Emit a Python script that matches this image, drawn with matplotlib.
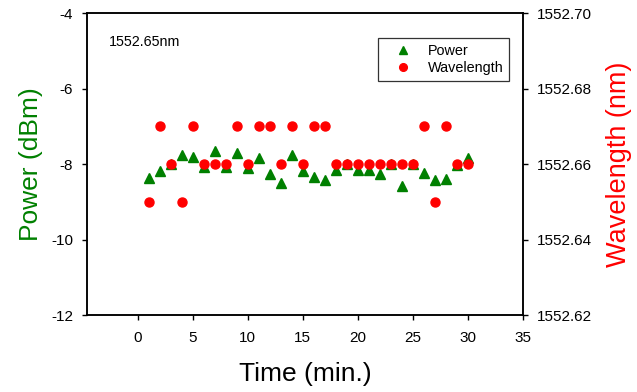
import matplotlib

matplotlib.use('Agg')
import matplotlib.pyplot as plt

plt.rcParams['font.family'] = ['Liberation Sans', 'DejaVu Sans']

time_min = list(range(1, 31))
power_dbm = [-8.38, -8.17, -8.0, -7.77, -7.82, -8.08, -7.64, -8.08, -7.70, -8.10,
             -7.83, -8.25, -8.49, -7.75, -8.17, -8.33, -8.41, -8.16, -8.0, -8.16,
             -8.16, -8.26, -8.0, -8.58, -8.0, -8.23, -8.42, -8.39, -8.03, -7.83]
wavelength_nm = [1552.65, 1552.67, 1552.66, 1552.65, 1552.67, 1552.66, 1552.66, 1552.66, 1552.67, 1552.66,
                 1552.67, 1552.67, 1552.66, 1552.67, 1552.66, 1552.67, 1552.67, 1552.66, 1552.66, 1552.66,
                 1552.66, 1552.66, 1552.66, 1552.66, 1552.66, 1552.67, 1552.65, 1552.67, 1552.66, 1552.66]

x_ticks = [0, 5, 10, 15, 20, 25, 30, 35]
power_ticks = [-4, -6, -8, -10, -12]
wl_ticks = [1552.62, 1552.64, 1552.66, 1552.68, 1552.70]

fig = plt.figure(figsize=(6.37, 3.92), dpi=100)
ax = fig.add_axes([0.1366, 0.1964, 0.684, 0.7696])
ax2 = ax.twinx()

h1, = ax.plot(time_min, power_dbm, linestyle='none', marker='^', color='#008000',
              markersize=6.5, label='Power')
h2, = ax2.plot(time_min, wavelength_nm, linestyle='none', marker='o', color='#ff0000',
               markersize=6.5, label='Wavelength')

ax.set_xlim(-4.6, 35)
ax.set_ylim(-12, -4)
ax2.set_ylim(1552.62, 1552.70)
ax.set_xticks(x_ticks)
ax.set_yticks(power_ticks)
ax.set_yticklabels([f"{v}" for v in power_ticks])
ax2.set_yticks(wl_ticks)
ax2.set_yticklabels([f"{v:.2f}" for v in wl_ticks])

for a in (ax, ax2):
    a.tick_params(direction='out', length=3.6, width=1, labelsize=11, pad=6.5)
    for s in a.spines.values():
        s.set_linewidth(1.1)
ax.tick_params(axis='x', pad=8)

ax.set_xlabel("Time (min.)", fontsize=19, labelpad=12)
ax.set_ylabel("Power (dBm)", fontsize=19, color='#008000', labelpad=6)
ax2.set_ylabel("Wavelength (nm)", fontsize=19.5, color='#ff0000', labelpad=10)

ax.text(0.05, 0.905, "1552.65nm", transform=ax.transAxes, fontsize=10.3, va='center')

leg = ax2.legend(handles=[h1, h2], loc='upper right', bbox_to_anchor=(0.9686, 0.918),
                 borderaxespad=0, fontsize=10.4, frameon=True, fancybox=False,
                 edgecolor='black', handlelength=2.6, handletextpad=0.4,
                 borderpad=0.4, labelspacing=0.2, markerscale=0.85)
leg.get_frame().set_linewidth(0.9)

fig.savefig("out.png", dpi=100)
